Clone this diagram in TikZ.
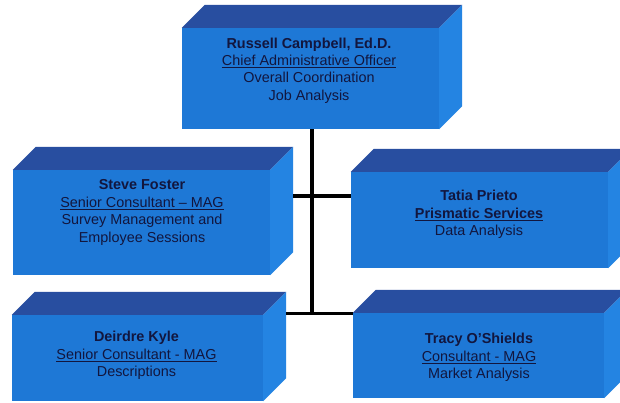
\documentclass[tikz,border=0pt]{standalone}
\usepackage{fontspec}
\setmainfont{Liberation Sans}
\usetikzlibrary{calc}
\definecolor{frontc}{RGB}{30,120,214}
\definecolor{sidec}{RGB}{36,132,226}
\definecolor{topc}{RGB}{40,78,160}
\definecolor{textc}{RGB}{18,22,62}
\newcommand\cubefaces[1]{%
  \fill[topc] (#1.north west) -- ++(23,-23) -- ($(#1.north east)+(23,-23)$) -- (#1.north east) -- cycle;
  \fill[sidec] (#1.north east) -- ++(23,-23) -- ($(#1.south east)+(23,-23)$) -- (#1.south east) -- cycle;
}
\begin{document}
\begin{tikzpicture}[x=1pt,y=-1pt,
  front/.style={fill=frontc, inner sep=0pt},
  txt/.style={text=textc, align=center, inner sep=0pt, font=\fontsize{14.4}{17.4}\selectfont},
  conn/.style={draw=black, line width=3.2pt}]
\clip (0,0) rectangle (620,402);
\fill[white] (0,0) rectangle (620,402);
% front faces
\node[front, minimum width=257pt, minimum height=101pt] (rc) at (310.5,78.5) {};
\node[front, minimum width=257pt, minimum height=105pt] (sf) at (141.5,222.5) {};
\node[front, minimum width=257pt, minimum height=96pt] (tp) at (479.5,220) {};
\node[front, minimum width=251pt, minimum height=86pt] (dk) at (137.5,358) {};
\node[front, minimum width=251pt, minimum height=85pt] (to) at (478.5,355.5) {};
\cubefaces{rc}
\cubefaces{sf}
\cubefaces{tp}
\cubefaces{dk}
\cubefaces{to}
% texts
\node[txt] (rct) at (309,70.5) {\textbf{Russell Campbell, Ed.D.}\\\underline{Chief Administrative Officer}\\Overall Coordination\\Job Analysis};
\node[txt] (sft) at (142,212.5) {\textbf{Steve Foster}\\\underline{Senior Consultant – MAG}\\Survey Management and\\Employee Sessions};
\node[txt] (tpt) at (479,214.5) {\textbf{Tatia Prieto}\\\textbf{\underline{Prismatic Services}}\\Data Analysis};
\node[txt] (dkt) at (136.5,355.5) {\textbf{Deirdre Kyle}\\\underline{Senior Consultant - MAG}\\Descriptions};
\node[txt] (tot) at (479,357.5) {\textbf{Tracy O'Shields}\\\underline{Consultant - MAG}\\Market Analysis};
% connectors
\coordinate (j1) at (312,196);
\coordinate (j2) at (312,313.5);
\coordinate (sfr) at ($(sf.east)+(23,0)$);
\coordinate (dkr) at ($(dk.east)+(23,0)$);
\draw[conn] (rc.south -| j1) -- (j2);
\draw[conn] (sfr |- j1) -- (tp.west |- j1);
\draw[conn] (dkr |- j2) -- (to.west |- j2);
\end{tikzpicture}
\end{document}
